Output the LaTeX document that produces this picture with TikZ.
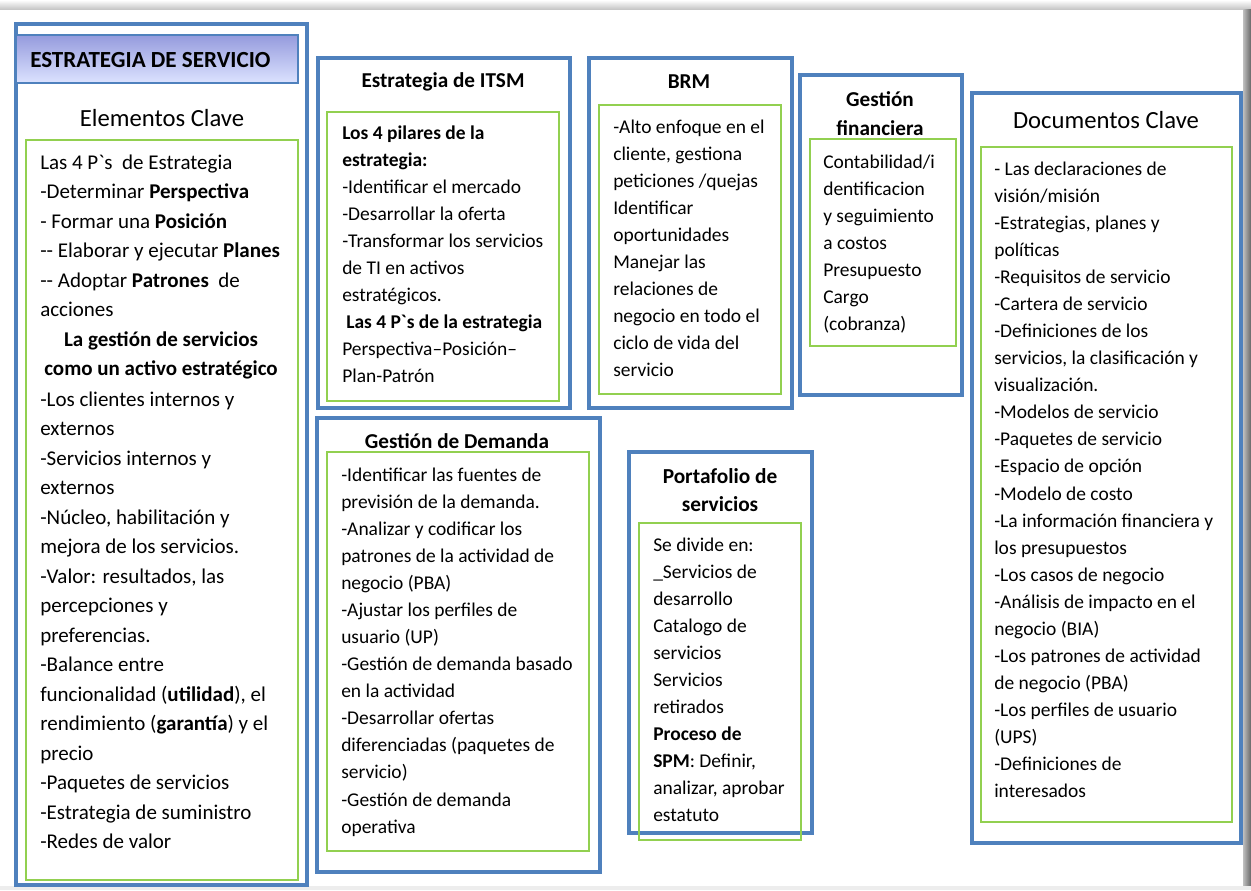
\documentclass[tikz,border=0pt]{standalone}
\usepackage{fontspec}
\setmainfont{Carlito}
\definecolor{bl}{HTML}{4F81BD}
\definecolor{gr}{HTML}{92D050}
\definecolor{hdtop}{HTML}{959BDD}
\definecolor{hdbot}{HTML}{DCE3FF}
\begin{document}
\begin{tikzpicture}[x=0.75pt,y=-0.75pt,
  bluebox/.style={draw=bl, line width=2.3pt},
  greenbox/.style={draw=gr, line width=1.9pt},
  body/.style={anchor=north west, inner sep=0pt, align=left, font=\fontsize{14.6pt}{20.3pt}\selectfont},
  bigbody/.style={anchor=north west, inner sep=0pt, align=left, font=\fontsize{15.75pt}{22.1pt}\selectfont},
  ttl/.style={inner sep=0pt, align=center, font=\fontsize{15.9pt}{21pt}\selectfont\bfseries},
  bigttl/.style={inner sep=0pt, align=center, font=\fontsize{18.5pt}{22pt}\selectfont}
]
\useasboundingbox (0,0) rectangle (1251,890);
% screenshot edges
\shade[top color=white, bottom color=black!22] (0,0) rectangle (1251,9);
\shade[left color=black!25, right color=black!60] (1243,9) rectangle (1251,886);
\fill[black!7] (0,886) rectangle (1251,890);

% ---------- Estrategia de servicio ----------
\draw[bluebox] (16,24) rectangle (307,885);
\shade[top color=hdtop, bottom color=hdbot] (16,35) rectangle (298,83);
\draw[draw=bl, line width=1.4pt] (16,35) rectangle (298,83);
\node[anchor=west, inner sep=0pt, font=\fontsize{17.3pt}{20pt}\selectfont\bfseries] (hdr) at (30,60) {ESTRATEGIA DE SERVICIO};
\node[bigttl] (elem) at (162,118) {Elementos Clave};
\draw[greenbox] (26,140) rectangle (298,880);
\node[bigbody] (left1) at (40,148.6) {\strut Las 4 P\textasciigrave s\ \ de Estrategia\\
-Determinar \textbf{Perspectiva}\\
- Formar una \textbf{Posición}\\
-{}- Elaborar y ejecutar \textbf{Planes}\\
-{}- Adoptar \textbf{Patrones}\ \ de\\
acciones};
\node[bigbody, anchor=north, align=center, font=\fontsize{15.75pt}{22.1pt}\selectfont\bfseries] (left2) at (161,325.6) {\strut La gestión de servicios\\
como un activo estratégico};
\node[bigbody] (left3) at (40,385.6) {\strut -Los clientes internos y\\
externos\\
-Servicios internos y\\
externos\\
-Núcleo, habilitación y\\
mejora de los servicios.\\
-Valor: resultados, las\\
percepciones y\\
preferencias.\\
-Balance entre\\
funcionalidad (\textbf{utilidad}), el\\
rendimiento (\textbf{garantía}) y el\\
precio\\
-Paquetes de servicios\\
-Estrategia de suministro\\
-Redes de valor};

% ---------- Estrategia de ITSM ----------
\draw[bluebox] (318,58) rectangle (570,408);
\node[ttl] (itsmT) at (443,82) {Estrategia de ITSM};
\draw[greenbox] (327,112) rectangle (559,401);
\node[body] (itsm) at (342,120) {\strut\textbf{Los 4 pilares de la}\\
\textbf{estrategia:}\\
-Identificar el mercado\\
-Desarrollar la oferta\\
-Transformar los servicios\\
de TI en activos\\
estratégicos.\\
\hspace*{3pt}\textbf{Las 4 P\textasciigrave s de la estrategia}\\
Perspectiva–Posición–\\
Plan-Patrón};

% ---------- BRM ----------
\draw[bluebox] (589,58) rectangle (792,408);
\node[ttl] (brmT) at (689,82) {BRM};
\draw[greenbox] (599,105) rectangle (781,394);
\node[body] (brm) at (613,114) {\strut -Alto enfoque en el\\
cliente, gestiona\\
peticiones /quejas\\
Identificar\\
oportunidades\\
Manejar las\\
relaciones de\\
negocio en todo el\\
ciclo de vida del\\
servicio};

% ---------- Gestion financiera ----------
\draw[bluebox] (800,75) rectangle (962,395);
\node[ttl, font=\fontsize{15.9pt}{21.5pt}\selectfont\bfseries] (finT) at (880,113.5) {Gestión\\financiera};
\draw[greenbox] (810,139) rectangle (956,346);
\node[body] (fin) at (823,149) {\strut Contabilidad/i\\
dentificacion\\
y seguimiento\\
a costos\\
Presupuesto\\
Cargo\\
(cobranza)};

% ---------- Documentos Clave ----------
\draw[bluebox] (972,93) rectangle (1241,843);
\node[bigttl] (docT) at (1106,120) {Documentos Clave};
\draw[greenbox] (981,147) rectangle (1232,822);
\node[body] (doc) at (994,156) {\strut - Las declaraciones de\\
visión/misión\\
-Estrategias, planes y\\
políticas\\
-Requisitos de servicio\\
-Cartera de servicio\\
-Definiciones de los\\
servicios, la clasificación y\\
visualización.\\
-Modelos de servicio\\
-Paquetes de servicio\\
-Espacio de opción\\
-Modelo de costo\\
-La información financiera y\\
los presupuestos\\
-Los casos de negocio\\
-Análisis de impacto en el\\
negocio (BIA)\\
-Los patrones de actividad\\
de negocio (PBA)\\
-Los perfiles de usuario\\
(UPS)\\
-Definiciones de\\
interesados};

% ---------- Gestion de Demanda ----------
\draw[bluebox] (317,418) rectangle (600,872);
\node[ttl] (demT) at (457,441) {Gestión de Demanda};
\draw[greenbox] (327,452) rectangle (589,851);
\node[body] (dem) at (341,462) {\strut -Identificar las fuentes de\\
previsión de la demanda.\\
-Analizar y codificar los\\
patrones de la actividad de\\
negocio (PBA)\\
-Ajustar los perfiles de\\
usuario (UP)\\
-Gestión de demanda basado\\
en la actividad\\
-Desarrollar ofertas\\
diferenciadas (paquetes de\\
servicio)\\
-Gestión de demanda\\
operativa};

% ---------- Portafolio de servicios ----------
\draw[bluebox] (629,452) rectangle (812,833);
\node[ttl, font=\fontsize{16pt}{21.5pt}\selectfont\bfseries] (portT) at (720,490) {Portafolio de\\servicios};
\draw[greenbox] (639,523) rectangle (801,840);
\node[body] (port) at (653,532) {\strut Se divide en:\\
\_Servicios de\\
desarrollo\\
Catalogo de\\
servicios\\
Servicios\\
retirados\\
\textbf{Proceso de}\\
\textbf{SPM}: Definir,\\
analizar, aprobar\\
estatuto};
\end{tikzpicture}
\end{document}
